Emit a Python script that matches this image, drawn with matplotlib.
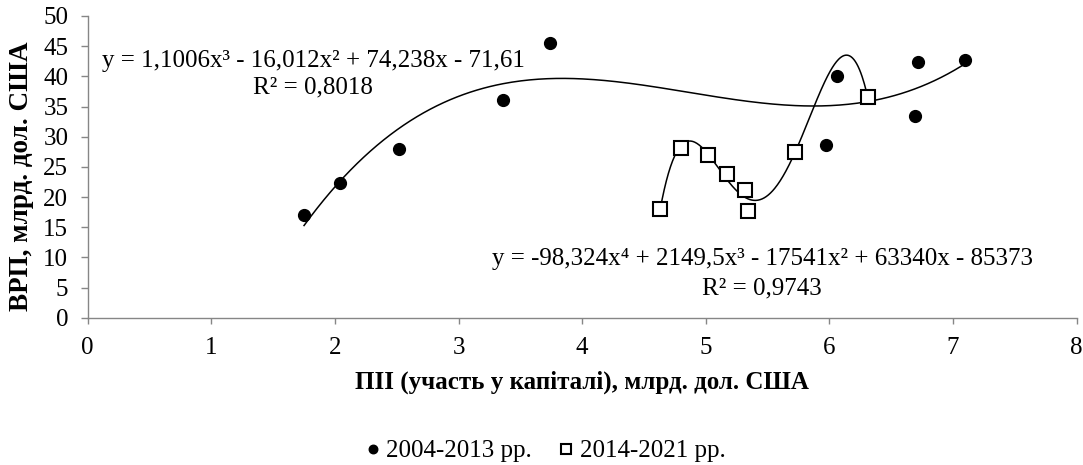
import numpy as np
import matplotlib
matplotlib.use('Agg')
import matplotlib.pyplot as plt

plt.rcParams['font.family'] = ['Liberation Serif', 'DejaVu Serif']

# 2004-2013 рр.
fdi_1 = [1.75, 2.04, 2.52, 3.36, 3.74, 5.97, 6.06, 6.69, 6.72, 7.10]
grp_1 = [17.1, 22.4, 28.0, 36.0, 45.5, 28.7, 40.0, 33.4, 42.4, 42.7]
# 2014-2021 рр.
fdi_2 = [4.63, 4.80, 5.02, 5.17, 5.32, 5.34, 5.72, 6.31]
grp_2 = [18.0, 28.2, 26.9, 23.8, 21.2, 17.7, 27.5, 36.5]

eq_1 = 'y = 1,1006x³ - 16,012x² + 74,238x - 71,61'
r2_1 = 'R² = 0,8018'
eq_2 = 'y = -98,324x⁴ + 2149,5x³ - 17541x² + 63340x - 85373'
r2_2 = 'R² = 0,9743'

W, H = 1083, 465
fig = plt.figure(figsize=(W / 100, H / 100), dpi=100)
ax = fig.add_axes([87.7 / W, 1 - 317.7 / H, 989 / W, 301.7 / H])

grey = '#868686'
fs = 18

# точки
ax.plot(fdi_1, grp_1, 'o', color='black', markersize=8.5, label='2004-2013 рр.', zorder=3)
ax.plot(fdi_2, grp_2, 's', color='black', markerfacecolor='white',
        markeredgewidth=1.5, markersize=9.5, label='2014-2021 рр.', zorder=3)

# лінії тренду (поліноми 3-го і 4-го ступеня)
xs1 = np.linspace(min(fdi_1), max(fdi_1), 300)
ax.plot(xs1, np.polyval(np.polyfit(fdi_1, grp_1, 3), xs1), color='black', lw=1.1, zorder=2)
xs2 = np.linspace(min(fdi_2), max(fdi_2), 300)
ax.plot(xs2, np.polyval(np.polyfit(fdi_2, grp_2, 4), xs2), color='black', lw=1.1, zorder=2)

ax.set_xlim(0, 8)
ax.set_ylim(0, 50)
ax.set_xticks(range(0, 9))
ax.set_yticks(range(0, 51, 5))

for s in ['top', 'right']:
    ax.spines[s].set_visible(False)
for s in ['left', 'bottom']:
    ax.spines[s].set_color(grey)
    ax.spines[s].set_linewidth(1.0)
ax.tick_params(axis='both', colors=grey, labelcolor='black', labelsize=fs, width=1.0)
ax.tick_params(axis='y', length=5, pad=9)
ax.tick_params(axis='x', length=4, pad=10)

ax.set_xlabel('ПІІ (участь у капіталі), млрд. дол. США', fontsize=fs, fontweight='bold', va='center')
ax.xaxis.set_label_coords(0.5, (317.7 - 382) / 301.7)
ax.set_ylabel('ВРП, млрд. дол. США', fontsize=19.5, fontweight='bold', va='center')
ax.yaxis.set_label_coords((22 - 87.7) / 989, (317.7 - 176) / 301.7)

# рівняння трендів
fig.text(313 / W, 1 - 66.7 / H, eq_1, fontsize=fs, ha='center', va='baseline')
fig.text(313 / W, 1 - 93.3 / H, r2_1, fontsize=fs, ha='center', va='baseline')
fig.text(762 / W, 1 - 265 / H, eq_2, fontsize=fs, ha='center', va='baseline')
fig.text(762 / W, 1 - 294 / H, r2_2, fontsize=fs, ha='center', va='baseline')

h, l = ax.get_legend_handles_labels()
leg = fig.legend(h, l, loc='center', bbox_to_anchor=(546 / W, 1 - 451 / H), ncol=2,
                 frameon=False, fontsize=fs, handlelength=0.5, handletextpad=0.3,
                 columnspacing=1.1, markerscale=0.72)

fig.savefig('out.png', dpi=100)
